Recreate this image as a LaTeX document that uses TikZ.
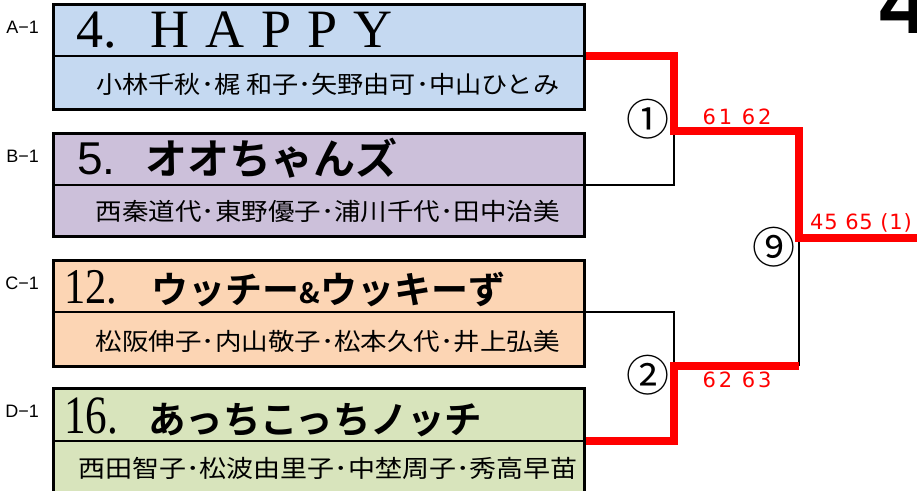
\documentclass[tikz,border=0pt]{standalone}
\usepackage{fontspec}
\setmainfont{Liberation Sans}
\newfontfamily\jpfont{Noto Sans CJK JP}[BoldFont={Noto Sans CJK JP Bold}]
\newfontfamily\serifname{Liberation Serif}
\newfontfamily\scorefont{DejaVu Sans}
\usetikzlibrary{positioning}
\definecolor{teamA}{HTML}{C5D9F1}
\definecolor{teamB}{HTML}{CCC0DA}
\definecolor{teamC}{HTML}{FCD5B4}
\definecolor{teamD}{HTML}{D8E4BC}
\definecolor{winred}{HTML}{FF0000}

\begin{document}
\begin{tikzpicture}[x=1pt,y=-1pt,
  teambox/.style={draw=black, line width=2.6pt, minimum width=531pt, inner sep=0pt, anchor=north west},
  divider/.style={draw=black, line width=1.2pt},
  teamname/.style={anchor=base west, inner sep=0pt},
  members/.style={font=\jpfont\fontsize{24}{24}\selectfont, inner sep=0pt},
  boxlabel/.style={font=\fontsize{18}{18}\selectfont, anchor=east, inner sep=0pt},
  lose/.style={draw=black, line width=2.4pt},
  win/.style={draw=winred, line width=7.2pt},
  roundno/.style={font=\jpfont\fontsize{43}{43}\selectfont, inner sep=0pt},
  score/.style={text=winred, font=\scorefont\fontsize{21}{21}\selectfont\addfontfeature{LetterSpace=14}, inner sep=0pt}
]

\useasboundingbox (0,0) rectangle (917,490);

% boxes
\node[teambox, fill=teamA, minimum height=105pt] (boxA) at (52,3) {};
\node[teambox, fill=teamB, minimum height=103pt] (boxB) at (52,132) {};
\node[teambox, fill=teamC, minimum height=106pt] (boxC) at (52,259) {};
\node[teambox, fill=teamD, minimum height=110pt] (boxD) at (52,387) {};

\coordinate (outA) at ([yshift=-53pt]boxA.north east);
\coordinate (outB) at ([yshift=-53pt]boxB.north east);
\coordinate (outC) at ([yshift=-53pt]boxC.north east);
\coordinate (outD) at ([yshift=-54pt]boxD.north east);

\draw[divider] (boxA.west |- outA) -- (outA);
\draw[divider] (boxB.west |- outB) -- (outB);
\draw[divider] (boxC.west |- outC) -- (outC);
\draw[divider] (boxD.west |- outD) -- (outD);

% nodes
{
\node[boxlabel] (labA) at ([xshift=-13pt,yshift=-24pt]boxA.north west) {A−1};
\node[boxlabel] (labB) at ([xshift=-13pt,yshift=-24pt]boxB.north west) {B−1};
\node[boxlabel] (labC) at ([xshift=-13pt,yshift=-24pt]boxC.north west) {C−1};
\node[boxlabel] (labD) at ([xshift=-13pt,yshift=-24pt]boxD.north west) {D−1};

\node[teamname] (nameA) at ([xshift=24pt,yshift=-44pt]boxA.north west)
  {\serifname\fontsize{54}{54}\selectfont 4.\hspace{34pt}{\addfontfeature{LetterSpace=30}HAPPY}};
\node[teamname] (nameB) at ([xshift=25pt,yshift=-42pt]boxB.north west)
  {\fontsize{46}{46}\selectfont 5.\hspace{30pt}{\jpfont\bfseries\fontsize{42}{42}\selectfont オオちゃんズ}};
\node[teamname] (nameC) at ([xshift=12pt,yshift=-44pt]boxC.north west)
  {\scalebox{0.85}[1]{\serifname\fontsize{50}{50}\selectfont 12.}\hspace{34pt}{\jpfont\bfseries\fontsize{37}{37}\selectfont ウッチー{\fontsize{28}{28}\selectfont\&}ウッキーず}};
\node[teamname] (nameD) at ([xshift=12pt,yshift=-46pt]boxD.north west)
  {\scalebox{0.8}[1]{\serifname\fontsize{54}{54}\selectfont 16.}\hspace{30pt}{\jpfont\bfseries\fontsize{37.5}{37.5}\selectfont あっちこっちノッチ}};

\node[members] (memA) at ([xshift=9pt,yshift=26pt]boxA.south) {\scalebox{1.09}[1]{小林千秋･梶 和子･矢野由可･中山ひとみ}};
\node[members] (memB) at ([xshift=9pt,yshift=26pt]boxB.south) {\scalebox{1.105}[1]{西秦道代･東野優子･浦川千代･田中治美}};
\node[members] (memC) at ([xshift=9pt,yshift=26pt]boxC.south) {\scalebox{1.105}[1]{松阪伸子･内山敬子･松本久代･井上弘美}};
\node[members] (memD) at ([xshift=9pt,yshift=31pt]boxD.south) {\scalebox{1.125}[1]{西田智子･松波由里子･中埜周子･秀高早苗}};
}

% bracket
\coordinate (m1) at (674,131);
\coordinate (m2) at (674,366);
\coordinate (m9) at (799,238);
\coordinate (m9low) at (799,366);
\coordinate (final) at (925,238);

\draw[lose] (outB) -| (m1);
\draw[lose] (outC) -| (m2);
\draw[lose] (m9low) -- (m9);

\draw[win] (outA) -| (m1) -| (m9) -- (final);
\draw[win] (outD) -| (m2) -- (m9low);

\node[roundno] (r1) at (648,119) {①};
\node[roundno] (r2) at (648,375) {②};
\node[roundno] (r9) at (774,247) {⑨};

\node[score] (s1) at (737,117) {61 62};
\node[score] (s2) at (737,380) {62 63};
\node[score, anchor=west, font=\scorefont\fontsize{21}{21}\selectfont\addfontfeature{LetterSpace=4}] (s9) at (810,223) {45 65 (1)};

\node[anchor=base west, inner sep=0pt, font=\bfseries\fontsize{90}{90}\selectfont] (corner) at (879,33) {4};

\end{tikzpicture}
\end{document}
